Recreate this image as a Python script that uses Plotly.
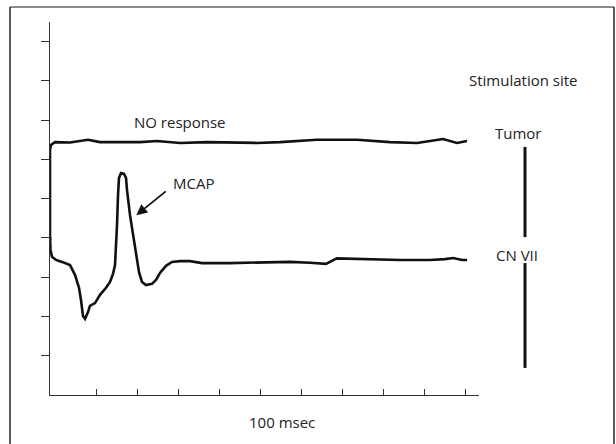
import plotly.graph_objects as go

# ---- data (time in msec, amplitude in arbitrary units) ----
no_resp_t = [-1.2, -1.2, -0.96, 0.02, 3.67, 8.05, 10.97, 15.84, 20.70, 24.84, 30.44, 37.01,
             45.04, 49.18, 54.77, 63.78, 73.51, 81.55, 88.12, 94.45, 97.85, 100.28]
no_resp_v = [3.95, 6.24, 6.37, 6.44, 6.43, 6.50, 6.44, 6.44, 6.44, 6.47, 6.42, 6.44,
             6.42, 6.42, 6.44, 6.50, 6.50, 6.44, 6.42, 6.52, 6.42, 6.47]

cn7_t = [-1.2, -1.08, -0.71, 0.26, 1.72, 3.67, 4.88, 5.86, 6.34, 6.83, 7.32, 8.05, 8.53,
         9.75, 10.97, 12.43, 13.40, 14.13, 14.62, 14.86, 15.11, 15.35, 15.59, 16.08,
         16.81, 17.30, 17.54, 18.27, 19.00, 19.73, 20.46, 21.19, 22.16, 23.62, 24.60,
         25.57, 27.03, 28.49, 30.44, 32.87, 35.79, 42.61, 49.91, 57.21, 62.08, 65.97,
         68.60, 76.70, 83.98, 91.30, 94.93, 96.90, 99.10, 100.30]
cn7_v = [4.02, 3.69, 3.52, 3.44, 3.39, 3.31, 3.06, 2.73, 2.42, 2.01, 1.94, 2.11, 2.27,
         2.34, 2.55, 2.73, 2.88, 3.08, 3.31, 3.69, 4.33, 5.09, 5.53, 5.65,
         5.63, 5.53, 5.22, 4.58, 4.08, 3.57, 3.13, 2.88, 2.80, 2.83, 2.93,
         3.11, 3.29, 3.39, 3.41, 3.41, 3.36, 3.36, 3.37, 3.39, 3.37, 3.34,
         3.48, 3.45, 3.44, 3.44, 3.46, 3.49, 3.44, 3.44]

x_ticks = [10, 20, 30, 40, 50, 60, 70, 80, 90, 100]
y_ticks = [1, 2, 3, 4, 5, 6, 7, 8, 9]

site_names = ["Tumor", "CN VII"]
site_bar_top = [6.32, 3.36]
site_bar_bottom = [4.02, 0.69]

mcap_peak_t, mcap_peak_v = 19.8, 4.58

ink = "#111111"
font = "Open Sans"

fig = go.Figure()
fig.add_trace(go.Scatter(x=no_resp_t, y=no_resp_v, mode="lines",
                         line=dict(color=ink, width=2.6), hoverinfo="skip"))
fig.add_trace(go.Scatter(x=cn7_t, y=cn7_v, mode="lines",
                         line=dict(color=ink, width=2.6), hoverinfo="skip"))

# stimulation-site bars
for top, bot in zip(site_bar_top, site_bar_bottom):
    fig.add_trace(go.Scatter(x=[0.5, 0.5], y=[top, bot], mode="lines", xaxis="x2", yaxis="y",
                             line=dict(color=ink, width=3), hoverinfo="skip"))

W, H = 616, 444
ml, mr, mt, mb = 50, 40, 22, 49
pw = W - ml - mr

fig.update_layout(
    width=W, height=H,
    margin=dict(l=ml, r=mr, t=mt, b=mb),
    paper_bgcolor="white", plot_bgcolor="white",
    showlegend=False,
    font=dict(family=font, size=15, color="#222222"),
    xaxis=dict(domain=[0, 429 / pw], range=[-1.2, 103.2], tickvals=x_ticks,
               showticklabels=False, ticks="inside", ticklen=6, tickcolor="#333333",
               tickwidth=1.2, showline=True, linecolor="#333333", linewidth=1.2,
               showgrid=False, zeroline=False, anchor="y"),
    xaxis2=dict(domain=[450 / pw, 500 / pw], range=[0, 1], visible=False, anchor="y"),
    yaxis=dict(range=[0, 9.5], tickvals=y_ticks, showticklabels=False, ticks="outside",
               ticklen=8, tickcolor="#333333", tickwidth=1.2, showline=True,
               linecolor="#333333", linewidth=1.2, showgrid=False, zeroline=False),
)

ann = [
    dict(text="NO response", x=30.4, y=6.95, xref="x", yref="y", showarrow=False),
    dict(text="MCAP", x=33.6, y=5.40, xref="x", yref="y", showarrow=False),
    dict(text="", x=mcap_peak_t, y=mcap_peak_v, xref="x", yref="y", showarrow=True,
         ax=31, ay=-25, arrowhead=2, arrowsize=1.2, arrowwidth=1.8, arrowcolor=ink),
    dict(text="100 msec", x=55.3, y=-0.072, xref="x", yref="paper", yanchor="middle",
         showarrow=False),
    dict(text="Stimulation site", x=0.46, y=8.02, xref="x2", yref="y", showarrow=False),
    dict(text=site_names[0], x=0.36, y=6.67, xref="x2", yref="y", showarrow=False),
    dict(text=site_names[1], x=0.34, y=3.57, xref="x2", yref="y", showarrow=False),
]
fig.update_layout(annotations=ann)

# outer frame
fx0, fx1 = (10 - ml) / pw, (614 - ml) / pw
fy1 = (395 - 7) / (H - mt - mb)
fig.add_shape(type="line", xref="paper", yref="paper", x0=fx0, x1=fx1, y0=fy1, y1=fy1,
              line=dict(color="#8a8a8a", width=2))
fig.add_shape(type="line", xref="paper", yref="paper", x0=fx0, x1=fx0, y0=fy1, y1=-0.3,
              line=dict(color="#222222", width=1.5))
fig.add_shape(type="line", xref="paper", yref="paper", x0=fx1, x1=fx1, y0=fy1, y1=-0.3,
              line=dict(color="#222222", width=1.5))

fig.write_html("out.html", config={"displayModeBar": False},
               post_script="document.body.style.margin='0';")
